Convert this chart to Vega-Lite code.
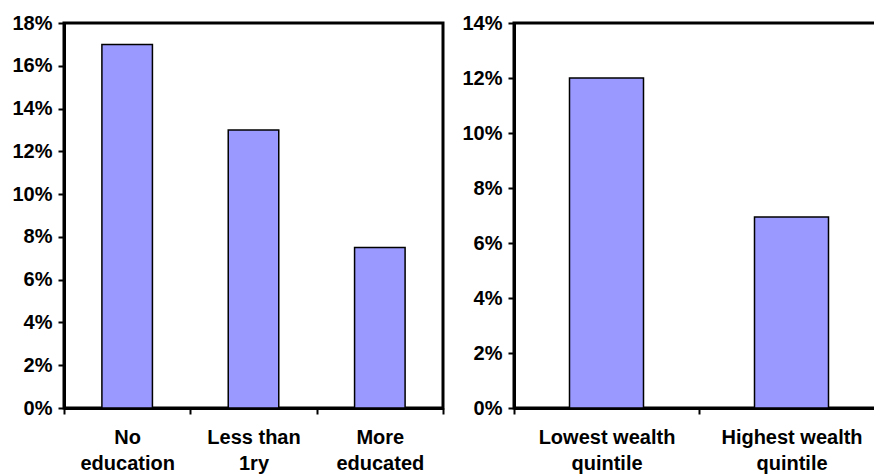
{
  "$schema": "https://vega.github.io/schema/vega-lite/v6.json",
  "background": "white",
  "padding": {"left": 10, "top": 11, "right": 0, "bottom": 0},
  "spacing": 14,
  "config": {
    "font": "Liberation Sans",
    "view": {"stroke": "black", "strokeWidth": 3},
    "axis": {
      "labelFont": "Liberation Sans",
      "labelFontSize": 20,
      "labelFontWeight": "bold",
      "labelColor": "black",
      "domainColor": "black",
      "domainWidth": 3,
      "tickColor": "black",
      "tickWidth": 2,
      "tickSize": 6,
      "grid": false,
      "title": null
    }
  },
  "hconcat": [
    {
      "width": 379,
      "height": 385,
      "data": {"values": [
        {"group": "No education", "value": 0.17},
        {"group": "Less than 1ry", "value": 0.13},
        {"group": "More educated", "value": 0.075}
      ]},
      "mark": {"type": "bar", "color": "#9999FF", "stroke": "black", "strokeWidth": 1.5, "width": {"band": 0.4}},
      "encoding": {
        "x": {
          "field": "group", "type": "nominal", "sort": null,
          "scale": {"paddingInner": 0, "paddingOuter": 0},
          "axis": {
            "labelAngle": 0, "tickBand": "extent", "labelPadding": 13, "labelLineHeight": 26,
            "labelExpr": "datum.extra ? '' : datum.value == 'No education' ? ['No', 'education'] : datum.value == 'Less than 1ry' ? ['Less than', '1ry'] : datum.value == 'More educated' ? ['More', 'educated'] : ''"
          }
        },
        "y": {
          "field": "value", "type": "quantitative",
          "scale": {"domain": [0, 0.18], "nice": false},
          "axis": {"values": [0, 0.02, 0.04, 0.06, 0.08, 0.1, 0.12, 0.14, 0.16, 0.18], "format": ".0%", "labelPadding": 6}
        }
      }
    },
    {
      "width": 370,
      "height": 385,
      "data": {"values": [
        {"group": "Lowest wealth quintile", "value": 0.12},
        {"group": "Highest wealth quintile", "value": 0.0695}
      ]},
      "mark": {"type": "bar", "color": "#9999FF", "stroke": "black", "strokeWidth": 1.5, "width": {"band": 0.4}},
      "encoding": {
        "x": {
          "field": "group", "type": "nominal", "sort": null,
          "scale": {"paddingInner": 0, "paddingOuter": 0},
          "axis": {
            "labelAngle": 0, "tickBand": "extent", "labelPadding": 13, "labelLineHeight": 26,
            "labelExpr": "datum.extra ? '' : datum.value == 'Lowest wealth quintile' ? ['Lowest wealth', 'quintile'] : datum.value == 'Highest wealth quintile' ? ['Highest wealth', 'quintile'] : ''"
          }
        },
        "y": {
          "field": "value", "type": "quantitative",
          "scale": {"domain": [0, 0.14], "nice": false},
          "axis": {"values": [0, 0.02, 0.04, 0.06, 0.08, 0.1, 0.12, 0.14], "format": ".0%", "labelPadding": 6}
        }
      }
    }
  ]
}
